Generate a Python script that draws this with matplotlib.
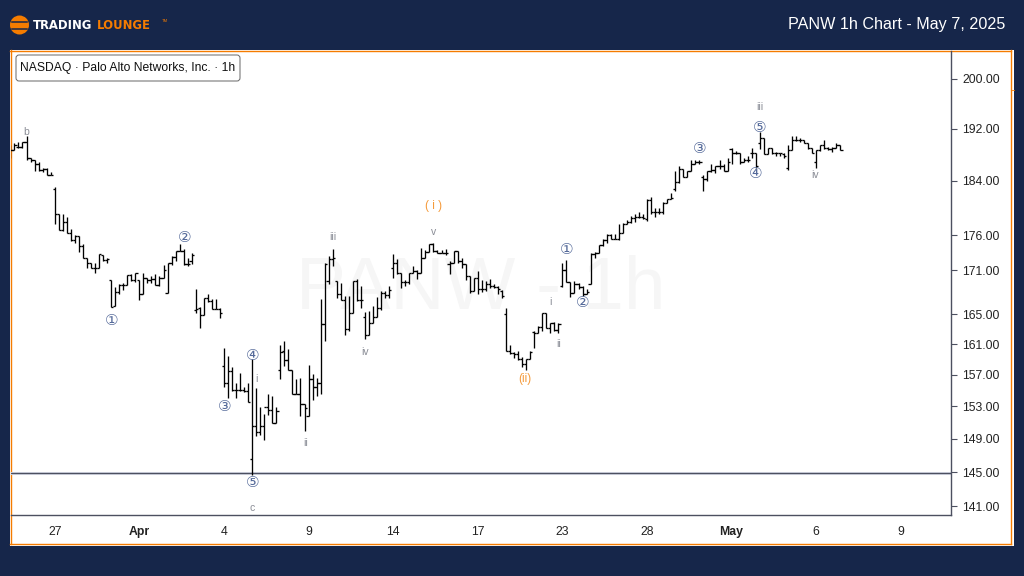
import numpy as np
import matplotlib
matplotlib.use("Agg")
import matplotlib.pyplot as plt
from matplotlib.patches import Rectangle, FancyBboxPatch, Circle
from matplotlib.ticker import FixedLocator, FixedFormatter, NullLocator

# ------------------------------
# Hourly OHLC values
# ------------------------------
opens = [188.2,188.7,189.2,189.2,190,187.5,187.1,186.6,185.7,185.8,184.9,182.7,179,176.7,177.9,176.3,175.3,175.9,174.4,172.7,172,171.4,171.3,173.1,172.4,
    169.6,166.1,168,169,169,170.3,169.6,169.6,167.7,170,169.6,169.8,169,169.9,167.9,172,172.9,173.7,173.7,171.9,172.3,165.5,165.8,164.9,167.2,166.8,165.7,165.7,
    158.2,156,157.5,155.1,155.1,155.1,154.9,146.6,150.6,149.8,150.6,152.9,152.6,151,157.6,160.1,158.9,157.6,154.6,154.6,153.3,151.8,156.5,155.4,156,163.7,169.5,172.6,
    169.5,167.7,166.9,163,165.1,169.5,166.9,164.6,162.2,163.8,164.6,165.8,167.9,167.6,171.4,172,170.6,169.4,169.4,170.6,170.9,170.6,172.7,173.6,174.7,173.7,173.4,173.4,
    171.9,172,173.7,172.3,171.9,170.2,168.1,169.9,168.4,168.4,169.1,168.8,168.7,168.1,165,160.1,159.8,159.7,159.1,158.4,159.1,162.6,162.5,163.3,165.1,163.1,163.8,162.9,
    168.8,171.1,169.4,167.9,169.1,168.7,167.7,169.1,173.3,173.4,174.6,175.3,176,175.5,175.5,176.3,177.6,177.9,178.5,178.7,178.7,178.4,181.1,179.3,179.3,179.3,180.7,181.3,
    182.8,183.85,185.8,184.6,185.5,186.6,186.8,184.5,184.2,185.5,185.7,186.2,186.3,185.5,188.9,188.3,188.3,186.8,187.2,188.2,188.2,189.8,190.5,188,189,188.2,188.2,188,
    186,188.7,190.3,190.3,190.3,189.8,189,186.8,188.7,189.4,189,188.9,189,189.4]
highs = [189.5,189.7,190,190,190.8,187.5,187.1,186.8,186,186,185.4,183,179,179.1,178.7,176.9,176,175.9,174.7,172.7,172,172,173.3,173.1,172.7,
    169.6,168.7,169.1,169.2,170.3,170.5,170.7,169.6,170.6,170,170.2,170.5,170.2,171.7,172.1,173,173.7,174.7,174,172.7,173.4,168.4,166,167.2,167.7,167.1,167.1,165.8,
    160.5,159.5,158,156,157.3,155.4,156,159.1,155.3,152.9,152.1,154.6,154.3,152.9,160.9,161.4,160.4,157.6,156.5,156.6,153.3,158.3,157.1,156.6,167.1,172,173,174,
    169.5,169.2,167.5,167.5,169.5,169.8,168.8,165.3,165.4,166.1,167.3,168.1,168.1,168.8,173.3,172.6,170.6,169.6,170.6,171.6,171,174.1,173.9,174.7,174.9,173.9,173.9,174,
    172.3,173.7,173.7,172.7,171.9,170.2,169.9,170.9,169.6,169.5,169.8,169.1,168.8,168.3,165.8,160.9,160,160.1,159.3,159.1,160.1,162.7,163.4,165.1,165.1,163.8,163.9,163.8,
    172.1,172.4,169.4,169.5,169.2,168.8,168.4,173.4,173.6,174.6,175.4,176.1,176.1,176.1,177.6,177.8,178.2,178.8,179,179.3,179.1,181.3,181.6,180,179.9,180.9,181.3,182.2,
    185.5,186.3,185.8,185.5,187.2,187.1,187.2,184.8,185.5,186.5,186.3,187.2,186.5,187.4,189,188.6,188.3,187.4,187.7,189,188.3,191.5,190.5,189,189,188.4,188.3,188.2,
    189.4,190.9,190.8,190.5,190.3,189.8,189,188.7,189.5,190.3,189.2,189.2,189.7,189.5]
lows = [187.4,188.7,189,189,187.2,186.9,185.5,185.5,185.4,184.8,184.8,177.6,176.7,176.6,176.3,175.1,174.9,173.6,172.7,171.3,171.4,170.7,171.3,172.3,172.1,
    166,166.1,167.7,168.3,169,169.5,169.4,166.9,167.7,169.2,169.2,169,168.8,169.9,167.9,171.7,172.3,173.7,171.7,171.6,171.9,165.1,163.1,164.9,166.6,165.7,165.7,164.5,
    155.4,154,155,154,154.9,154.8,153.5,144.7,149.3,149.5,148.9,151.9,150.9,151,156.5,158.2,157.6,154.6,154.5,151.8,150,151.8,153.8,154.3,154.5,161.4,169.1,171.6,
    167.2,166.9,162.2,162.7,165.1,166.8,165.8,161.7,162.2,163.8,164.6,165.5,167.2,167.2,170,170.5,168.6,168.8,169.1,170.6,169.8,170.6,172.7,173.6,173.6,173.4,173.4,173.1,
    170.5,172,172,171.4,169.6,167.9,168.1,167.7,168,168.1,168.6,168.6,167.7,167.2,160.1,159.7,159.2,158.9,158,157.6,159.1,160.5,162.5,162.7,163.1,162.5,162.7,162.5,
    168.7,169.4,167.3,167.9,168.4,167.5,167.7,169.1,172.7,173.4,174.4,174.9,175.4,175.4,175.3,176.3,177.6,177.8,177.9,178.5,178.4,178.1,179.1,178.7,179.1,179.1,180.7,181.3,
    182.5,183.7,184.5,184.6,185.5,186.5,186.6,182.4,184,185.4,185.2,185.8,185.5,185.5,186.6,188,186.6,186.8,186.9,187.4,186,188.9,188,188,188,187.8,187.8,187.4,
    185.7,188.7,190.1,190,189.7,188.9,188.2,186,188.6,188.9,188.7,188.4,189,188.7]
closes = [188.7,189.5,189.2,190,187.5,187.1,186.6,185.7,185.8,184.9,184.9,179,176.7,177.9,176.3,175.3,175.9,174.4,172.7,172,171.4,171.4,173.3,172.4,172.6,
    166,168,169,169,170.3,169.6,170.7,167.7,170,169.6,169.8,169,169.9,171.1,172,172.9,173.7,173.7,171.9,171.9,173.1,165.7,164.9,167.2,166.8,165.7,165.7,165.1,
    156,157.5,155.1,155.1,155.1,154.9,153.5,150.6,149.8,150.6,152.9,152.6,151,152.4,160,158.9,157.6,154.6,154.6,153.3,152.8,156.5,155.4,156,163.7,171.9,172.6,172.7,
    167.7,166.9,163,165.1,169.5,166.9,166.9,162.2,163.8,164.6,165.8,167.9,167.6,168.3,172,170.6,169.4,169.4,170.6,170.9,170.6,172.7,173.6,174.7,173.7,173.4,173.4,173.4,
    172,173.7,172.3,171.9,170.2,168.1,169.9,168.4,168.4,169.1,168.8,168.7,168.4,167.5,160.1,159.8,159.7,159.1,158.4,159.1,160,162.5,163.3,165.1,163.1,163.8,162.9,163.7,
    171.1,169.4,167.9,169.1,168.7,167.7,168,173.3,173.4,174.6,175.3,176,175.5,175.5,176.3,177.6,177.9,178.5,178.7,178.7,178.5,181.1,179.3,179.3,179.3,180.7,181.3,181.4,
    183.85,185.8,184.6,185.5,186.6,186.8,186.9,184.2,185.5,185.7,186.2,186.3,185.5,186.8,188.3,188.3,186.8,187.2,187.2,188.2,186.2,190.5,188,189,188.2,188.2,188.2,187.7,
    188.7,190.3,190.3,190.3,189.8,189,188.2,188.7,189.4,189,188.9,189,189.4,188.7]

support_level = 144.9

price_ticks = [200, 192, 184, 176, 171, 165, 161, 157, 153, 149, 145, 141]
date_ticks = [11, 32, 53, 74, 95, 116, 137, 158, 179, 200, 221]
date_labels = ["27", "Apr", "4", "9", "14", "17", "23", "28", "May", "6", "9"]

# Elliott wave labels: text, bar number, price
blue_labels = [("①", 25.2, 164.1), ("②", 43.3, 175.6), ("③", 53.2, 153), ("④", 60.2, 159.5), ("⑤", 60.2, 143.8),
               ("①", 138, 174), ("②", 142, 166.6), ("③", 171.1, 188.9), ("④", 185, 185.1), ("⑤", 186, 192.2)]
grey_labels = [("b", 3.9, 191.5), ("i", 61, 156.5), ("c", 60, 140.8), ("ii", 73.2, 148.5), ("iii", 80.1, 175.7),
               ("iv", 88, 160), ("v", 105, 176.4), ("i", 134, 166.6), ("ii", 136, 161), ("iii", 185.9, 195.5),
               ("iv", 199.8, 184.8)]
orange_labels = [("( i )", 105, 180.3), ("(ii)", 127.8, 156.5)]

NAVY = "#16264a"
ORANGE = "#f57c00"
AXIS = "#4c5060"
FONT = "Liberation Sans"

plt.rcParams["font.family"] = [FONT, "DejaVu Sans"]

fig = plt.figure(figsize=(10.24, 5.76), dpi=100, facecolor=NAVY)

# Frame, header and logo in pixel coordinates
bg = fig.add_axes([0, 0, 1, 1], zorder=0)
bg.set_xlim(0, 1024)
bg.set_ylim(576, 0)
bg.axis("off")
bg.add_patch(Rectangle((10, 50), 1004, 496, fc="white", ec="none"))
bg.plot([10.5, 10.5], [50, 544], color=ORANGE, lw=1.0)
bg.plot([10, 1010.5], [50.5, 50.5], color=ORANGE, lw=1.0)
bg.plot([1010.5, 1010.5], [50, 544], color=ORANGE, lw=1.0)
bg.plot([10, 1010.5], [543.5, 543.5], color=ORANGE, lw=1.0)
bg.plot([1011, 1014], [90, 90], color=ORANGE, lw=0.6)

bg.add_patch(Circle((19.5, 25), 9.5, fc=ORANGE, ec="none"))
bg.plot([12, 27], [21.5, 21.5], color=NAVY, lw=1.1)
bg.plot([12, 27], [28.5, 28.5], color=NAVY, lw=1.1)
bg.text(33, 25.5, "TRADING", color="white", fontsize=8.4, fontweight="bold", family=["DejaVu Sans"], va="center", ha="left")
bg.text(97, 25.5, "LOUNGE", color=ORANGE, fontsize=8.4, fontweight="bold", family=["DejaVu Sans"], va="center", ha="left")
bg.text(162, 21.5, "TM", color=ORANGE, fontsize=3, va="center", ha="left")
bg.text(1005, 25, "PANW 1h Chart - May 7, 2025", color="white", fontsize=11.6, va="center", ha="right")

# Price chart
ax = fig.add_axes([11 / 1024, 1 - 515 / 576, 940 / 1024, 464 / 576], zorder=1)
ax.patch.set_alpha(0)
ax.set_yscale("log")
ax.set_ylim(140.0, 204.6)
ax.set_xlim(0.15, 233.45)

bars = np.arange(len(opens))
ax.text(0.5, 0.485, "PANW - 1h", transform=ax.transAxes, color="#f6f6f6", fontsize=54, ha="center", va="center", zorder=0)
ax.axhline(support_level, color="#dfe2ee", lw=2.2, zorder=1)
ax.axhline(support_level, color=AXIS, lw=1.0, zorder=1)
ax.vlines(bars, lows, highs, color="black", lw=0.95, zorder=3)
ax.hlines(opens, bars - 0.55, bars, color="black", lw=0.95, zorder=3)
ax.hlines(closes, bars, bars + 0.55, color="black", lw=0.95, zorder=3)

for txt, x, y in blue_labels:
    ax.text(x, y, txt, color="#556a9a", fontsize=11, ha="center", va="center", family=["DejaVu Sans"], zorder=4)
for txt, x, y in grey_labels:
    ax.text(x, y, txt, color="#8a8d96", fontsize=7.5, ha="center", va="center", zorder=4)
for txt, x, y in orange_labels:
    ax.text(x, y, txt, color="#f59a3a", fontsize=8.5, ha="center", va="center", zorder=4)

ax.yaxis.tick_right()
ax.yaxis.set_major_locator(FixedLocator(price_ticks))
ax.yaxis.set_major_formatter(FixedFormatter([f"{p:.2f}" for p in price_ticks]))
ax.yaxis.set_minor_locator(NullLocator())
ax.tick_params(axis="y", which="major", length=4, width=0.8, color=AXIS, labelsize=8.8, labelcolor="#222222", pad=4)
ax.set_xticks(date_ticks)
ax.set_xticklabels(date_labels)
ax.tick_params(axis="x", length=0, labelsize=8.8, labelcolor="#222222", pad=8)
for lbl in ax.get_xticklabels():
    if lbl.get_text() in ("Apr", "May"):
        lbl.set_fontweight("bold")

for side in ("top", "left"):
    ax.spines[side].set_visible(False)
for side in ("right", "bottom"):
    ax.spines[side].set_color(AXIS)
    ax.spines[side].set_linewidth(1.0)

# Symbol box
top = fig.add_axes([0, 0, 1, 1], zorder=2)
top.set_xlim(0, 1024)
top.set_ylim(576, 0)
top.axis("off")
top.add_patch(FancyBboxPatch((18, 57), 220, 22, boxstyle="round,pad=2,rounding_size=3", fc="white", ec="#666666", lw=0.7))
top.text(20.5, 68, "NASDAQ · Palo Alto Networks, Inc. · 1h", color="#111111", fontsize=8.75, va="center", ha="left")

fig.savefig("out.png", dpi=100, facecolor=NAVY)
